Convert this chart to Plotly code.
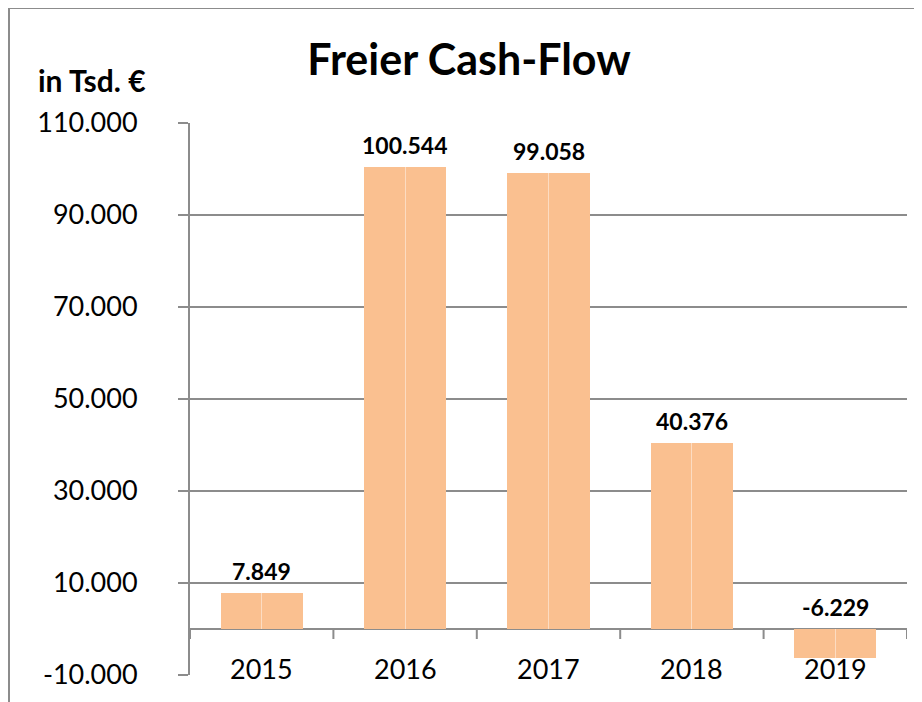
import plotly.graph_objects as go

# ---- data ----
years = ["2015", "2016", "2017", "2018", "2019"]
cash_flow = [7849, 100544, 99058, 40376, -6229]
y_tick_values = [-10000, 10000, 30000, 50000, 70000, 90000, 110000]

def de_fmt(v):
    return f"{v:,}".replace(",", ".")

y_tick_labels = [de_fmt(v) for v in y_tick_values]
value_labels = [de_fmt(v) for v in cash_flow]
label_base = [max(v, 0) for v in cash_flow]

# ---- layout constants (page pixels; the page body adds an 8px offset) ----
OFF = 8
W, H = 922 - OFF, 702 - OFF
L, R, T, B = 190 - OFF, 15, 123 - OFF, 27
PW, PH = W - L - R, H - T - B
GRAY = "#8C8C8C"
BAR = "#FAC090"
FONT = "Lato"

def px_x(p):  # page pixel -> paper x
    return (p - OFF - L) / PW

def px_y(p):  # page pixel -> paper y
    return (H - B - (p - OFF)) / PH

fig = go.Figure()
fig.add_trace(go.Bar(x=years, y=cash_flow, width=0.572,
                     marker=dict(color=BAR, line=dict(width=0)),
                     hoverinfo="x+y"))
# faint seam in the middle of each bar
fig.add_trace(go.Bar(x=years, y=cash_flow, width=0.008,
                     marker=dict(color="rgba(255,255,255,0.45)", line=dict(width=0)),
                     hoverinfo="skip"))

shapes = []
# category tick marks on the zero line
for i in range(len(years) + 1):
    shapes.append(dict(type="line", xref="x", yref="y", x0=i - 0.5, x1=i - 0.5,
                       ysizemode="pixel", yanchor=0, y0=0, y1=-10,
                       line=dict(color=GRAY, width=2)))
# outer chart border (left and top)
shapes.append(dict(type="path", xref="paper", yref="paper",
                   path=f"M {px_x(9)} {px_y(710)} L {px_x(9)} {px_y(8)} L {px_x(930)} {px_y(8)}",
                   line=dict(color=GRAY, width=2)))

annotations = []
for i, yr in enumerate(years):
    annotations.append(dict(x=i, y=-10000, xref="x", yref="y", text=yr,
                            showarrow=False, yanchor="middle", yshift=7,
                            font=dict(family=FONT, size=27, color="black")))
    annotations.append(dict(x=i, y=label_base[i], xref="x", yref="y",
                            text=f"<b>{value_labels[i]}</b>",
                            showarrow=False, yanchor="middle", yshift=22,
                            font=dict(family=FONT, size=23, color="black")))
annotations.append(dict(x=px_x(36), y=px_y(80), xref="paper", yref="paper",
                        text="<b>in Tsd. €</b>", showarrow=False,
                        xanchor="left", yanchor="middle",
                        font=dict(family=FONT, size=30, color="black")))

fig.update_layout(
    width=W, height=H,
    margin=dict(l=L, r=R, t=T, b=B),
    paper_bgcolor="white", plot_bgcolor="white",
    barmode="overlay", bargap=0,
    showlegend=False,
    title=dict(text="<b>Freier Cash-Flow</b>", x=(469 - OFF) / W, xref="container",
               xanchor="center",
               y=1 - (60 - OFF) / H, yref="container", yanchor="middle",
               font=dict(family=FONT, size=43, color="black")),
    xaxis=dict(type="category", range=[-0.5, 4.5], showgrid=False, showticklabels=False,
               ticks="", showline=False, zeroline=False, fixedrange=True),
    yaxis=dict(range=[-10000, 110000], tickvals=y_tick_values, ticktext=y_tick_labels,
               showgrid=True, gridcolor=GRAY, gridwidth=2,
               zeroline=True, zerolinecolor=GRAY, zerolinewidth=2,
               showline=True, linecolor=GRAY, linewidth=2,
               ticks="outside", ticklen=10, tickwidth=2, tickcolor=GRAY,
               ticklabelstandoff=35,
               tickfont=dict(family=FONT, size=27, color="black"), fixedrange=True),
    shapes=shapes, annotations=annotations,
)

fig.write_html("out.html")
